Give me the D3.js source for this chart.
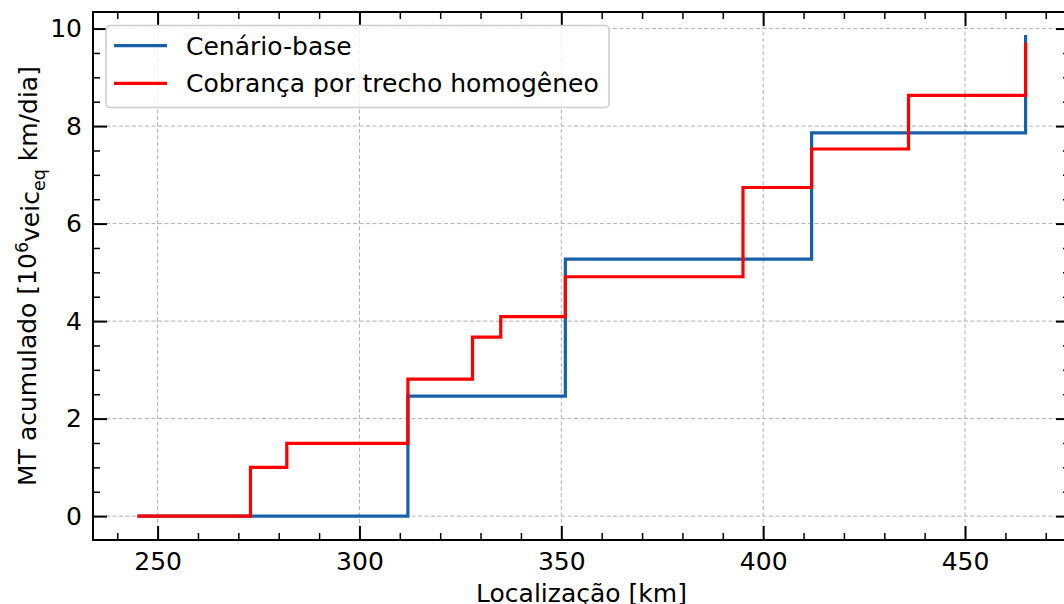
<!DOCTYPE html>
<html>
<head>
<meta charset="utf-8">
<script src="https://cdn.jsdelivr.net/npm/d3@7"></script>
<style>
  body { margin: 0; background: #fff; }
  svg { display: block; font-family: "DejaVu Sans", sans-serif; }
</style>
</head>
<body>
<svg width="1064" height="604"></svg>
<script>
var width = 1064;
var height = 604;

// data (step after)
var baseKm = [245, 312, 351, 412, 465];
var baseMT = [0, 2.46, 5.27, 7.86, 9.87];

var trechoKm = [245, 273, 282, 312, 328, 335, 351, 395, 412, 436, 465];
var trechoMT = [0, 1.0, 1.49, 2.81, 3.67, 4.09, 4.91, 6.74, 7.53, 8.63, 9.71];

var xTicks = [250, 300, 350, 400, 450];
var yTicks = [0, 2, 4, 6, 8, 10];
var seriesNames = ["Cenário-base", "Cobrança por trecho homogêneo"];
var seriesColors = ["#1761a9", "#ff0000"];

var mLeft = 93, mTop = 12, mRight = 1070, mBottom = 540;
var fontSize = "25px";

var xScale = d3.scaleLinear()
    .domain([234, 476])
    .range([mLeft, mRight]);

var yScale = d3.scaleLinear()
    .domain([-0.49, 10.34])
    .range([mBottom, mTop]);

var svg = d3.select("svg")
    .attr("width", width)
    .attr("height", height);

// grid
var grid = svg.append("g")
    .attr("stroke", "#b0b0b0")
    .attr("stroke-width", 1)
    .attr("stroke-dasharray", "4,2.5");

grid.selectAll(".gx")
    .data(xTicks)
    .enter()
    .append("line")
        .attr("x1", d => xScale(d))
        .attr("x2", d => xScale(d))
        .attr("y1", mTop)
        .attr("y2", mBottom);

grid.selectAll(".gy")
    .data(yTicks)
    .enter()
    .append("line")
        .attr("x1", mLeft)
        .attr("x2", mRight)
        .attr("y1", d => yScale(d))
        .attr("y2", d => yScale(d));

// minor tick values
var xMinor = d3.range(240, 476, 10).filter(v => xTicks.indexOf(v) < 0);
var yMinor = d3.range(-0.5, 10.4, 0.5).filter(v => v >= -0.49 && yTicks.indexOf(v) < 0);

function styleAxis(g, w) {
    g.attr("font-family", null).attr("font-size", null);
    g.select(".domain").remove();
    g.selectAll(".tick line").attr("stroke", "#000").attr("stroke-width", w);
    g.selectAll(".tick text")
        .attr("fill", "#000")
        .style("font-family", "'DejaVu Sans', sans-serif")
        .style("font-size", fontSize);
}

// bottom
svg.append("g")
    .attr("transform", "translate(0," + mBottom + ")")
    .call(d3.axisBottom(xScale).tickValues(xTicks).tickSize(-14).tickPadding(12).tickFormat(d3.format("d")))
    .call(g => styleAxis(g, 2));
svg.append("g")
    .attr("transform", "translate(0," + mBottom + ")")
    .call(d3.axisBottom(xScale).tickValues(xMinor).tickSize(-7).tickFormat(""))
    .call(g => styleAxis(g, 1.5));

// top
svg.append("g")
    .attr("transform", "translate(0," + mTop + ")")
    .call(d3.axisTop(xScale).tickValues(xTicks).tickSize(-14).tickFormat(""))
    .call(g => styleAxis(g, 2));
svg.append("g")
    .attr("transform", "translate(0," + mTop + ")")
    .call(d3.axisTop(xScale).tickValues(xMinor).tickSize(-7).tickFormat(""))
    .call(g => styleAxis(g, 1.5));

// left
svg.append("g")
    .attr("transform", "translate(" + mLeft + ",0)")
    .call(d3.axisLeft(yScale).tickValues(yTicks).tickSize(-14).tickPadding(11).tickFormat(d3.format("d")))
    .call(g => styleAxis(g, 2));
svg.append("g")
    .attr("transform", "translate(" + mLeft + ",0)")
    .call(d3.axisLeft(yScale).tickValues(yMinor).tickSize(-7).tickFormat(""))
    .call(g => styleAxis(g, 1.5));

// right
svg.append("g")
    .attr("transform", "translate(" + mRight + ",0)")
    .call(d3.axisRight(yScale).tickValues(yTicks).tickSize(-14).tickFormat(""))
    .call(g => styleAxis(g, 2));
svg.append("g")
    .attr("transform", "translate(" + mRight + ",0)")
    .call(d3.axisRight(yScale).tickValues(yMinor).tickSize(-7).tickFormat(""))
    .call(g => styleAxis(g, 1.5));

// step lines
var line = d3.line()
    .x(d => xScale(d[0]))
    .y(d => yScale(d[1]))
    .curve(d3.curveStepAfter);

svg.append("path")
    .datum(d3.zip(baseKm, baseMT))
    .attr("fill", "none")
    .attr("stroke", seriesColors[0])
    .attr("stroke-width", 3.2)
    .attr("d", line);

svg.append("path")
    .datum(d3.zip(trechoKm, trechoMT))
    .attr("fill", "none")
    .attr("stroke", seriesColors[1])
    .attr("stroke-width", 3.2)
    .attr("d", line);

// spines
svg.append("rect")
    .attr("x", mLeft)
    .attr("y", mTop)
    .attr("width", mRight - mLeft)
    .attr("height", mBottom - mTop)
    .attr("fill", "none")
    .attr("stroke", "#000")
    .attr("stroke-width", 2);

// legend
var legend = svg.append("g");
legend.append("rect")
    .attr("x", 106)
    .attr("y", 25.5)
    .attr("width", 503)
    .attr("height", 82)
    .attr("rx", 4)
    .attr("fill", "#fff")
    .attr("fill-opacity", 0.8)
    .attr("stroke", "#cccccc")
    .attr("stroke-width", 1.5);

var items = legend.selectAll(".item")
    .data(seriesNames)
    .enter()
    .append("g")
        .attr("transform", (d, i) => "translate(0," + (45.7 + i * 37.6) + ")");

items.append("line")
    .attr("x1", 114)
    .attr("x2", 167)
    .attr("stroke", (d, i) => seriesColors[i])
    .attr("stroke-width", 3.2);

items.append("text")
    .attr("x", 186)
    .attr("dy", "0.36em")
    .style("font-size", fontSize)
    .text(d => d);

// x label
svg.append("text")
    .attr("x", (mLeft + mRight) / 2)
    .attr("y", 602)
    .style("text-anchor", "middle")
    .style("font-size", fontSize)
    .text("Localização [km]");

// y label
var yl = svg.append("text")
    .attr("transform", "translate(36," + ((mTop + mBottom) / 2) + ") rotate(-90)")
    .style("text-anchor", "middle")
    .style("font-size", fontSize);
yl.append("tspan").text("MT acumulado [10");
yl.append("tspan").attr("dy", "-0.45em").style("font-size", "17.5px").text("6");
yl.append("tspan").attr("dy", "0.45em").text("veic");
yl.append("tspan").attr("dy", "0.3em").style("font-size", "17.5px").text("eq");
yl.append("tspan").attr("dy", "-0.3em").text(" km/dia]");
</script>
</body>
</html>
